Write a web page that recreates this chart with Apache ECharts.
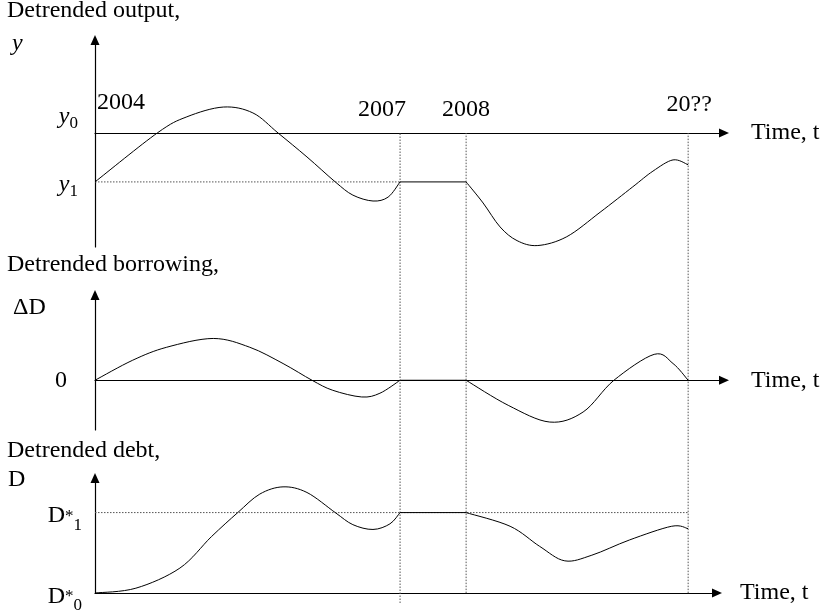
<!DOCTYPE html>
<html><head><meta charset="utf-8">
<script src="https://cdn.jsdelivr.net/npm/echarts@6/dist/echarts.min.js"></script>
<style>html,body{margin:0;padding:0;background:#fff}#c{width:821px;height:616px}</style>
</head><body><div id="c"></div>
<script>
const FONT = 'Liberation Serif';
// milestones on the time axis (schematic units)
const yearT = [0, 48.5, 59.0, 94.3];
const yearLabels = ['2004', '2007', '2008', '20??'];

// Panel 1: detrended output (y0 = 0, y1 = -1)
const outPreT  = [0, 9.9, 14.6, 20.4, 25.1, 29.1, 33.7, 38.2, 41.0, 44.2, 46.6, 48.5];
const outPreY  = [-1, 0, 0.33, 0.53, 0.41, 0, -0.49, -1, -1.27, -1.39, -1.31, -1];
const outFlatT = [48.5, 59.0];
const outFlatY = [-1, -1];
const outPostT = [59.0, 61.7, 64.4, 67.1, 70.4, 75.0, 80.3, 85.5, 88.7, 91.9, 94.3];
const outPostY = [-1, -1.43, -1.92, -2.2, -2.3, -2.12, -1.62, -1.10, -0.78, -0.55, -0.65];
const outLevels = [0, -1];

// Panel 2: detrended borrowing
const borPreT  = [0, 6.0, 11.4, 18.8, 24.6, 29.9, 34.5, 37.8, 42.4, 45.3, 48.5];
const borPreY  = [0, 0.48, 0.79, 1.0, 0.79, 0.40, 0, -0.24, -0.40, -0.31, 0];
const borFlatT = [48.5, 59.0];
const borFlatY = [0, 0];
const borPostT = [59.0, 65.7, 72.3, 77.6, 82.5, 88.9, 91.9, 94.3];
const borPostY = [0, -0.6, -1.0, -0.76, 0, 0.62, 0.40, 0];

// Panel 3: detrended debt (D*0 = 0, D*1 = 1)
const debtPreT  = [0, 6.5, 13.5, 18.5, 22.7, 26.2, 29.9, 33.7, 38.2, 41.0, 44.2, 46.9, 48.5];
const debtPreY  = [0, 0.06, 0.31, 0.70, 1.0, 1.23, 1.32, 1.25, 1.0, 0.85, 0.79, 0.86, 1.0];
const debtFlatT = [48.5, 59.0];
const debtFlatY = [1, 1];
const debtPostT = [59.0, 66.0, 70.7, 74.7, 79.0, 85.0, 91.7, 94.3];
const debtPostY = [1.0, 0.83, 0.58, 0.40, 0.47, 0.66, 0.83, 0.80];
const debtLevels = [0, 1];

// vertical guides (normalised overlay height, 0 = bottom, 1 = top)
const guideT = [48.5, 59.0, 94.3];
const guideBottom = [0, 0.021, 0.021];

const zip = (a, b) => a.map((v, i) => [v, b[i]]);
const near = (a, b) => Math.abs(a - b) < 1e-6;

const axisLineStyle = { color: '#000', width: 1.2 };
const arrowLine = { show: true, symbol: ['none', 'triangle'], symbolSize: [9, 10], lineStyle: axisLineStyle };

function xAx(grid, max, extra) {
  return Object.assign({
    type: 'value', gridIndex: grid, min: 0, max: max,
    axisLine: arrowLine, axisTick: { show: false }, splitLine: { show: false },
    axisLabel: { show: false },
    name: 'Time, t', nameLocation: 'end', nameGap: 27,
    nameTextStyle: { fontFamily: FONT, fontSize: 24, color: '#000', verticalAlign: 'middle' }
  }, extra || {});
}
function yAx(grid, min, max, label) {
  return {
    type: 'value', gridIndex: grid, min: min, max: max,
    axisLine: arrowLine, axisTick: { show: false }, splitLine: { show: false },
    axisLabel: label || { show: false }
  };
}
const symStyle = { fontFamily: FONT, fontSize: 24, color: '#000', lineHeight: 30 };
const subStyle = { fontFamily: FONT, fontSize: 17, color: '#000', lineHeight: 17, verticalAlign: 'bottom' };
const gap = h => ({ fontSize: 1, lineHeight: h });

// smooth path through the projected data points (Catmull-Rom -> cubic Bezier, pixel space)
function splinePath(P) {
  let d = 'M' + P[0][0] + ' ' + P[0][1];
  for (let i = 0; i < P.length - 1; i++) {
    const p0 = P[Math.max(i - 1, 0)], p1 = P[i], p2 = P[i + 1], p3 = P[Math.min(i + 2, P.length - 1)];
    const c1x = p1[0] + (p2[0] - p0[0]) / 6, c1y = p1[1] + (p2[1] - p0[1]) / 6;
    const c2x = p2[0] - (p3[0] - p1[0]) / 6, c2y = p2[1] - (p3[1] - p1[1]) / 6;
    d += ' C' + c1x + ' ' + c1y + ' ' + c2x + ' ' + c2y + ' ' + p2[0] + ' ' + p2[1];
  }
  return d;
}
const curve = (x, y, ts, ys) => {
  const pts = zip(ts, ys);
  return {
    type: 'custom', xAxisIndex: x, yAxisIndex: y, data: pts, silent: true, z: 5, clip: false,
    renderItem: (params, api) => {
      if (params.dataIndex !== 0) return null;
      return {
        type: 'path',
        shape: { pathData: splinePath(pts.map(p => api.coord(p))) },
        style: { stroke: '#000', lineWidth: 1, fill: 'none' }
      };
    }
  };
};
const flat = (x, y, data) => ({
  type: 'line', xAxisIndex: x, yAxisIndex: y, data: data,
  showSymbol: false, symbol: 'none', lineStyle: { color: '#000', width: 1 }, z: 5, silent: true
});
const dotted = (x, y, data) => ({
  type: 'line', xAxisIndex: x, yAxisIndex: y, data: data,
  showSymbol: false, symbol: 'none', lineStyle: { color: '#555', width: 1, type: [1.5, 1.5] }, z: 3, silent: true
});

const guideSeries = guideT.map((t, i) => dotted(3, 3, [[t, guideBottom[i]], [t, 1]]));

// nudges of the year captions relative to their point on the time axis
const yearNudge = [[26, -30], [-18, -23], [0, -23], [1, -28]];
const yearSeries = {
  type: 'scatter', xAxisIndex: 0, yAxisIndex: 0, symbolSize: 0, silent: true, z: 6,
  itemStyle: { opacity: 1 },
  data: yearT.map((t, i) => ({ value: [t, 0], label: { offset: yearNudge[i] } })),
  label: {
    show: true, position: 'inside', color: '#000', opacity: 1, fontFamily: FONT, fontSize: 24,
    formatter: p => yearLabels[p.dataIndex]
  }
};

const option = {
  animation: false,
  backgroundColor: '#fff',
  grid: [
    { left: 95, right: 97, top: 40, bottom: 369 },
    { left: 95, right: 97, top: 295, bottom: 186 },
    { left: 95, right: 104, top: 478, bottom: 23 },
    { left: 95, right: 97, top: 133, bottom: 13 }
  ],
  xAxis: [
    xAx(0, 100),
    xAx(1, 100),
    xAx(2, 98.9, { nameGap: 23 }),
    { type: 'value', gridIndex: 3, min: 0, max: 100, show: false }
  ],
  yAxis: [
    yAx(0, -2.33, 1.9, {
      show: true, margin: 17, customValues: outLevels,
      formatter: v => near(v, 0) ? '{a|y}{b|0}\n{g|\u00a0}' : '{h|\u00a0}\n{a|y}{b|1}',
      rich: {
        a: Object.assign({}, symStyle, { fontStyle: 'italic' }),
        b: Object.assign({}, subStyle),
        g: gap(32), h: gap(6)
      }
    }),
    yAx(1, -1.19, 2.04, {
      show: true, margin: 28, customValues: [0], formatter: () => '0',
      fontFamily: FONT, fontSize: 24, color: '#000'
    }),
    yAx(2, 0, 1.43, {
      show: true, margin: 13, customValues: debtLevels,
      formatter: v => '{h|\u00a0}\n{D|D}{s|*}{b|' + (near(v, 0) ? '0' : '1') + '}',
      rich: {
        D: Object.assign({}, symStyle, { lineHeight: 36 }),
        s: { fontFamily: FONT, fontSize: 17, color: '#000', lineHeight: 17, verticalAlign: 'middle' },
        b: Object.assign({}, subStyle),
        h: gap(7)
      }
    }),
    { type: 'value', gridIndex: 3, min: 0, max: 1, show: false }
  ],
  graphic: [
    { type: 'text', left: 7, top: -1, style: { text: 'Detrended output,', font: '24px "Liberation Serif"', fill: '#000' } },
    { type: 'text', left: 12, top: 32, style: { text: 'y', font: 'italic 24px "Liberation Serif"', fill: '#000' } },
    { type: 'text', left: 7, top: 253, style: { text: 'Detrended borrowing,', font: '24px "Liberation Serif"', fill: '#000' } },
    { type: 'text', left: 13, top: 296, style: { text: '\u0394D', font: '24px "Liberation Serif"', fill: '#000' } },
    { type: 'text', left: 7, top: 439, style: { text: 'Detrended debt,', font: '24px "Liberation Serif"', fill: '#000' } },
    { type: 'text', left: 8, top: 468, style: { text: 'D', font: '24px "Liberation Serif"', fill: '#000' } }
  ],
  series: [
    dotted(0, 0, zip([0, yearT[1]], [outLevels[1], outLevels[1]])),
    curve(0, 0, outPreT, outPreY),
    flat(0, 0, zip(outFlatT, outFlatY)),
    curve(0, 0, outPostT, outPostY),
    curve(1, 1, borPreT, borPreY),
    flat(1, 1, zip(borFlatT, borFlatY)),
    curve(1, 1, borPostT, borPostY),
    dotted(2, 2, zip([0, yearT[3]], [debtLevels[1], debtLevels[1]])),
    curve(2, 2, debtPreT, debtPreY),
    flat(2, 2, zip(debtFlatT, debtFlatY)),
    curve(2, 2, debtPostT, debtPostY),
    yearSeries
  ].concat(guideSeries)
};
const chart = echarts.init(document.getElementById('c'), null, { renderer: 'canvas' });
chart.setOption(option);
</script>
</body></html>
